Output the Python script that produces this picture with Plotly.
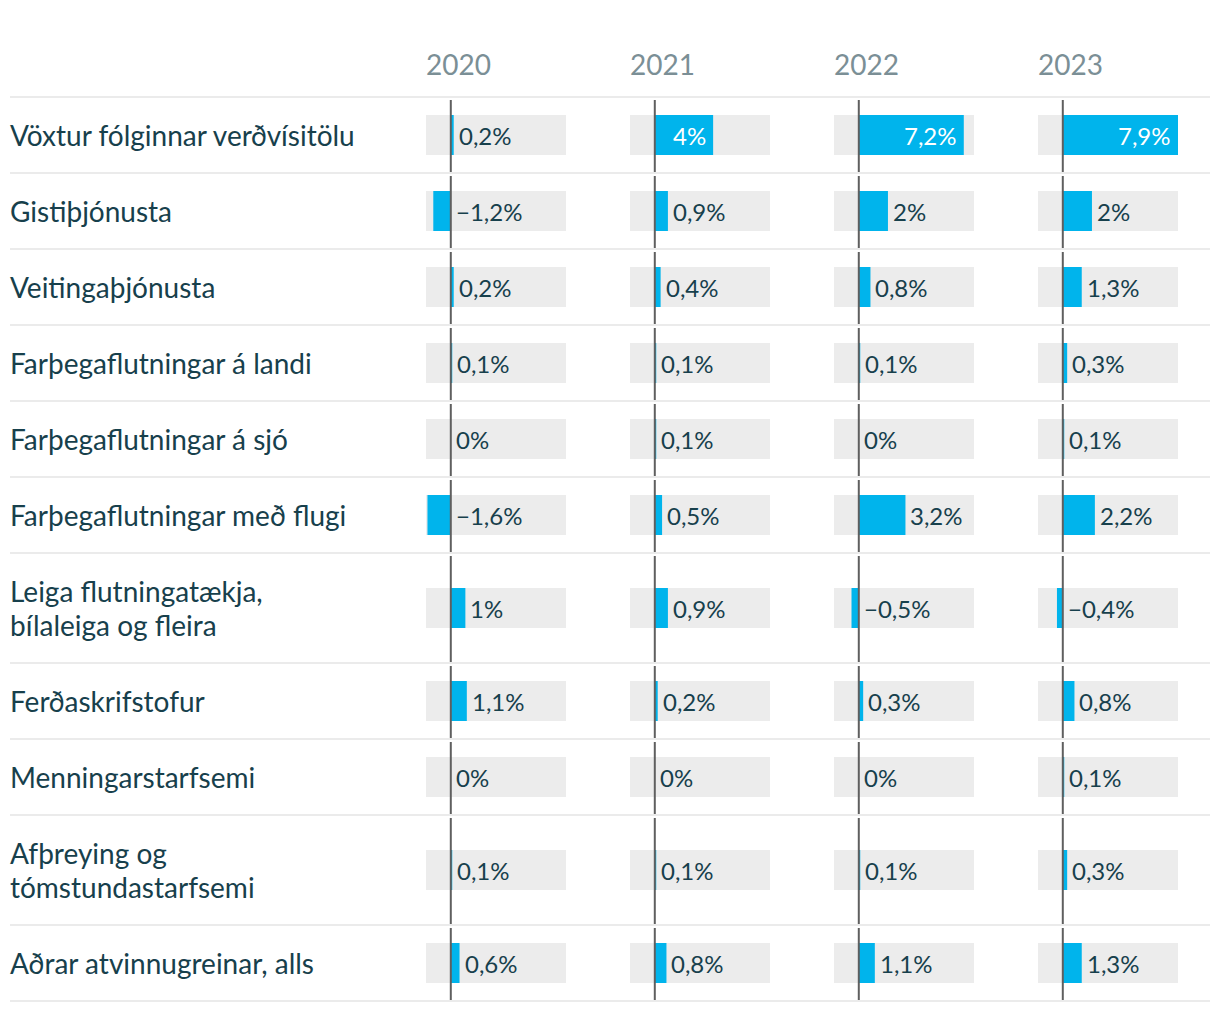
import plotly.graph_objects as go

# ---- data ----
categories = [
    "Vöxtur fólginnar verðvísitölu",
    "Gistiþjónusta",
    "Veitingaþjónusta",
    "Farþegaflutningar á landi",
    "Farþegaflutningar á sjó",
    "Farþegaflutningar með flugi",
    "Leiga flutningatækja,<br>bílaleiga og fleira",
    "Ferðaskrifstofur",
    "Menningarstarfsemi",
    "Afþreying og<br>tómstundastarfsemi",
    "Aðrar atvinnugreinar, alls",
]
years = ["2020", "2021", "2022", "2023"]
v2020 = [0.2, -1.2, 0.2, 0.1, 0.0, -1.6, 1.0, 1.1, 0.0, 0.1, 0.6]
v2021 = [4.0, 0.9, 0.4, 0.1, 0.1, 0.5, 0.9, 0.2, 0.0, 0.1, 0.8]
v2022 = [7.2, 2.0, 0.8, 0.1, 0.0, 3.2, -0.5, 0.3, 0.0, 0.1, 1.1]
v2023 = [7.9, 2.0, 1.3, 0.3, 0.1, 2.2, -0.4, 0.8, 0.1, 0.3, 1.3]
series = [v2020, v2021, v2022, v2023]

# ---- style / layout ----
W, H = 1220, 1012
XMIN, XMAX = -1.7, 7.9
COL_LEFT = [426, 630, 834, 1038]
COL_W = 140
TOP = 97
LINE_H = 34
BLUE = "#00b4ec"
GREY = "#ececec"
TEXT = "#17404c"
HEAD = "#7b8f96"
SEP = "#ebebeb"
FONT = "Lato"


def fmt(v):
    s = f"{abs(v):.1f}"
    if s.endswith(".0"):
        s = s[:-2]
    s = s.replace(".", ",")
    if v < 0 and s != "0":
        s = "\u2212" + s
    return s + "%"


heights = [110 if "<br>" in c else 76 for c in categories]
seps = [TOP]
for h in heights:
    seps.append(seps[-1] + h)
centers = [(seps[i] + seps[i + 1]) / 2 for i in range(len(categories))]

fig = go.Figure()
annotations = []
shapes = []

for k, (yr, vals) in enumerate(zip(years, series)):
    xa = "x" if k == 0 else f"x{k+1}"
    # background range bars
    fig.add_trace(go.Bar(
        orientation="h", y=centers, x=[XMAX - XMIN] * len(vals), base=XMIN,
        width=40, marker=dict(color=GREY, line=dict(width=0)),
        xaxis=xa, yaxis="y", hoverinfo="skip", showlegend=False,
    ))
    # value bars
    fig.add_trace(go.Bar(
        orientation="h", y=centers, x=vals, base=0,
        width=40, marker=dict(color=BLUE, line=dict(width=0)),
        xaxis=xa, yaxis="y", showlegend=False,
        hovertemplate="%{x}<extra></extra>",
    ))
    # labels
    for v, yc in zip(vals, centers):
        if v >= 3.5:
            annotations.append(dict(
                x=v, y=yc, xref=xa, yref="y", text=fmt(v), showarrow=False,
                xanchor="right", yanchor="middle", xshift=-5,
                font=dict(family=FONT, size=24, color="white"),
            ))
        else:
            annotations.append(dict(
                x=max(v, 0), y=yc, xref=xa, yref="y", text=fmt(v), showarrow=False,
                xanchor="left", yanchor="middle", xshift=3,
                font=dict(family=FONT, size=24, color=TEXT),
            ))
    # zero lines per row
    for i in range(len(categories)):
        shapes.append(dict(
            type="line", xref=xa, yref="y", x0=0, x1=0,
            y0=seps[i] + 3, y1=seps[i + 1] - 1,
            line=dict(color="#5f5f5f", width=2), layer="above",
        ))
    # header
    annotations.append(dict(
        x=COL_LEFT[k] / W, y=64, xref="paper", yref="y", text=yr, showarrow=False,
        xanchor="left", yanchor="middle", xshift=-2,
        font=dict(family=FONT, size=28, color=HEAD),
    ))

# row labels (multi-line labels split into lines with custom spacing)
for c, yc in zip(categories, centers):
    lines = c.split("<br>")
    n = len(lines)
    for j, ln in enumerate(lines):
        annotations.append(dict(
            x=10 / W, y=yc + (j - (n - 1) / 2) * LINE_H, xref="paper", yref="y",
            text=ln, showarrow=False,
            xanchor="left", yanchor="middle", align="left", xshift=-2,
            font=dict(family=FONT, size=28, color=TEXT),
        ))

# separators
for s in seps:
    shapes.append(dict(
        type="line", xref="paper", yref="y", x0=10 / W, x1=1210 / W, y0=s, y1=s,
        line=dict(color=SEP, width=2), layer="below",
    ))

axis_common = dict(range=[XMIN, XMAX], showgrid=False, zeroline=False,
                   showticklabels=False, showline=False, ticks="", fixedrange=True)
layout_axes = {}
for k in range(4):
    name = "xaxis" if k == 0 else f"xaxis{k+1}"
    layout_axes[name] = dict(
        axis_common,
        domain=[COL_LEFT[k] / W, (COL_LEFT[k] + COL_W) / W],
        anchor="y",
    )

fig.update_layout(
    width=W, height=H, margin=dict(l=0, r=0, t=0, b=0),
    paper_bgcolor="white", plot_bgcolor="white",
    barmode="overlay", showlegend=False,
    yaxis=dict(range=[H, 0], domain=[0, 1], showgrid=False, zeroline=False,
               showticklabels=False, showline=False, ticks="", fixedrange=True),
    annotations=annotations, shapes=shapes,
    font=dict(family=FONT, color=TEXT),
    **layout_axes,
)

fig.write_html("out.html", config={"displayModeBar": False},
               post_script="document.body.style.margin='0';")
